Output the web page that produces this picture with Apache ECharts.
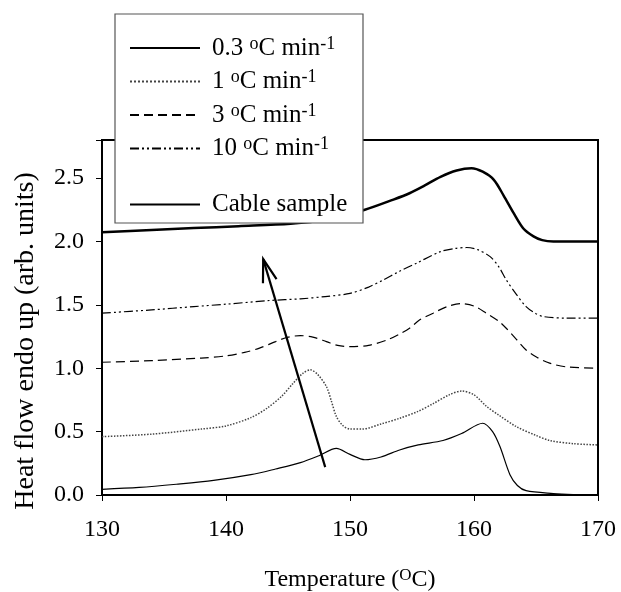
<!DOCTYPE html>
<html>
<head>
<meta charset="utf-8">
<script src="https://cdn.jsdelivr.net/npm/echarts@6/dist/echarts.min.js"></script>
<style>
  html, body { margin: 0; padding: 0; background: #fff; }
  #chart { width: 621px; height: 592px; }
</style>
</head>
<body>
<div id="chart"></div>
<script>
// 各升温速率的曲线 [温度, 热流]
let rate03 = [[130,0.045],[133,0.06],[136,0.085],[139,0.115],[142,0.16],[144,0.205],[146,0.255],[147.5,0.31],[148.9,0.368],[150,0.32],[151.2,0.278],[152.5,0.3],[154,0.355],[155.5,0.395],[157.5,0.43],[159,0.485],[160.7,0.566],[161.5,0.5],[162.1,0.38],[162.9,0.16],[163.5,0.075],[164.2,0.034],[166.4,0.012],[168,0.004],[170,0.0]];
let rate1 = [[130,0.46],[134,0.48],[138,0.52],[140,0.545],[142,0.61],[143.3,0.684],[144.5,0.78],[145.4,0.88],[146.2,0.96],[146.8,0.987],[147.4,0.95],[148.1,0.855],[148.5,0.74],[148.9,0.62],[149.4,0.55],[150,0.52],[151,0.52],[152.5,0.56],[154,0.605],[155.5,0.66],[156.7,0.72],[158,0.79],[159,0.82],[160,0.79],[161,0.70],[162,0.63],[163.4,0.54],[165,0.47],[166.1,0.43],[168,0.405],[170,0.395]];
let rate3 = [[130,1.047],[134,1.06],[138,1.08],[140,1.097],[141.5,1.125],[142.7,1.158],[144,1.21],[145,1.245],[146,1.257],[147,1.245],[148.1,1.21],[149,1.18],[150,1.17],[151.5,1.18],[153,1.223],[154,1.27],[154.8,1.315],[155.6,1.38],[156.7,1.434],[157.8,1.485],[158.9,1.51],[160,1.49],[161,1.434],[162,1.37],[162.6,1.315],[163.4,1.23],[164.2,1.144],[165,1.09],[166.1,1.04],[167.5,1.01],[170,1.0]];
let rate10 = [[130,1.434],[134,1.46],[137.4,1.486],[140,1.505],[143.5,1.534],[146,1.547],[148,1.565],[150,1.59],[151.5,1.64],[152.7,1.697],[154,1.765],[155.4,1.83],[157.3,1.92],[158.5,1.945],[159.4,1.952],[160.3,1.935],[161.3,1.88],[162,1.8],[162.6,1.697],[163.4,1.585],[164.2,1.486],[165,1.43],[165.6,1.407],[167.5,1.395],[170,1.395]];
let cable = [[130,2.073],[134,2.09],[137.4,2.105],[141,2.12],[145.2,2.139],[148,2.17],[151.2,2.25],[153.5,2.33],[154.8,2.38],[156,2.44],[157.3,2.51],[158.6,2.56],[159.8,2.578],[160.7,2.55],[161.6,2.486],[162.4,2.36],[163.2,2.223],[164,2.1],[164.8,2.04],[165.5,2.01],[166.4,2.0],[170,2.0]];
// 箭头：起点 -> 终点
let arrow = [[148,0.22],[143,1.86]];
let names = ["0.3 °C min-1", "1 °C min-1", "3 °C min-1", "10 °C min-1", "Cable sample"];

let chart = echarts.init(document.getElementById("chart"));
const FONT = "Liberation Serif";

// 图例文字（上标）
function legendText(name) {
    if (name === "Cable sample") return "{t|Cable sample}";
    let num = name.split(" ")[0];
    return "{t|" + num + " }{s|o}{t|C min}{s|-1}";
}
let rich = {
    t: { fontFamily: FONT, fontSize: 25, color: "#000", lineHeight: 26 },
    s: { fontFamily: FONT, fontSize: 18, color: "#000", lineHeight: 26, verticalAlign: "top" }
};

function makeLine(name, data, type, width, color) {
    return {
        name: name,
        type: "line",
        data: data,
        smooth: 0.3,
        symbol: "none",
        lineStyle: { color: color, width: width, type: type },
        itemStyle: { color: color },
        z: 2
    };
}

let legendBase = {
    orient: "vertical", left: 124,
    itemWidth: 70, itemHeight: 14, itemGap: 8,
    formatter: legendText,
    itemStyle: { color: "rgba(0,0,0,0)", borderWidth: 0, opacity: 0 },
    textStyle: { rich: rich, padding: [0, 0, 0, 7] },
    z: 5
};

chart.setOption({
    animation: false,
    grid: { left: 102, right: 23, top: 140, bottom: 97, outerBoundsMode: "none",
        show: true, borderColor: "#000", borderWidth: 2 },
    xAxis: {
        type: "value", min: 130, max: 170, interval: 10,
        name: "{t|Temperature (}{s|O}{t|C)}",
        nameLocation: "middle", nameGap: 72,
        nameTextStyle: { rich: {
            t: { fontFamily: FONT, fontSize: 24, color: "#000", lineHeight: 26 },
            s: { fontFamily: FONT, fontSize: 17, color: "#000", lineHeight: 26, verticalAlign: "top" }
        } },
        axisLine: { lineStyle: { color: "#000", width: 2 } },
        axisTick: { inside: false, length: 6, lineStyle: { color: "#000" } },
        axisLabel: { fontFamily: FONT, fontSize: 24, color: "#000", margin: 23 },
        splitLine: { show: false }
    },
    yAxis: {
        type: "value", min: 0, max: 2.8, interval: 0.5,
        name: "Heat flow endo up (arb. units)",
        nameLocation: "middle", nameGap: 62,
        nameTextStyle: { fontFamily: FONT, fontSize: 28, color: "#000", padding: [0, 47, 0, 0] },
        axisLine: { lineStyle: { color: "#000", width: 2 } },
        axisTick: { inside: false, length: 6, lineStyle: { color: "#000" } },
        axisLabel: { fontFamily: FONT, fontSize: 24, color: "#000", margin: 18,
            formatter: function (v) { return v > 2.75 ? "" : v.toFixed(1); } },
        splitLine: { show: false }
    },
    legend: [
        Object.assign({}, legendBase, { data: names.slice(0, 4), top: 30 }),
        Object.assign({}, legendBase, { data: names.slice(4), top: 187 })
    ],
    graphic: [{
        type: "rect", z: 4,
        shape: { x: 115, y: 14, width: 248, height: 209 },
        style: { fill: "#fff", stroke: "#555", lineWidth: 1.2 }
    }],
    series: [
        makeLine(names[0], rate03, "solid", 1.2, "#000"),
        makeLine(names[1], rate1, "dotted", 1.5, "#444"),
        makeLine(names[2], rate3, [9, 5], 1.2, "#000"),
        makeLine(names[3], rate10, [9, 3, 2, 3, 2, 3], 1.2, "#000"),
        makeLine(names[4], cable, "solid", 2.5, "#000"),
        {
            type: "custom",
            data: [arrow[0].concat(arrow[1])],
            z: 3,
            renderItem: function (params, api) {
                let p0 = api.coord([api.value(0), api.value(1)]);
                let p1 = api.coord([api.value(2), api.value(3)]);
                let ang = Math.atan2(p0[1] - p1[1], p0[0] - p1[0]);
                let len = 24, spread = 0.3;
                let a = [p1[0] + len * Math.cos(ang - spread), p1[1] + len * Math.sin(ang - spread)];
                let b = [p1[0] + len * Math.cos(ang + spread), p1[1] + len * Math.sin(ang + spread)];
                let st = { stroke: "#000", lineWidth: 2.2, fill: null };
                return {
                    type: "group",
                    children: [
                        { type: "line", shape: { x1: p0[0], y1: p0[1], x2: p1[0], y2: p1[1] }, style: st },
                        { type: "polyline", shape: { points: [a, p1, b] }, style: st }
                    ]
                };
            }
        }
    ]
});
window.addEventListener("resize", function () { chart.resize(); });
</script>
</body>
</html>
